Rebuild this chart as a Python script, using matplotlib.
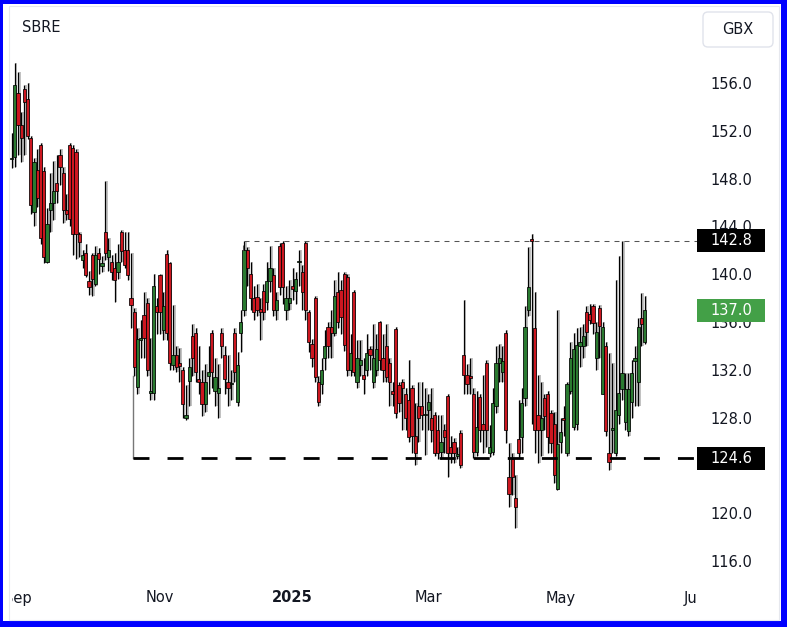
import numpy as np
import pandas as pd
import matplotlib
matplotlib.use("Agg")
import matplotlib.pyplot as plt
import matplotlib.transforms as mtransforms
from matplotlib.patches import Rectangle, FancyBboxPatch

# daily candles, SBRE in GBX (Aug 29 2024 -> Jun 2025)
opens = [149.6, 149.8, 155.2, 152.5, 155.5, 154.7, 151.4, 145.2, 148.7, 150.8,
         148.6, 141.0, 145.4, 146.0, 147.6, 150.0, 148.5, 145.4, 150.8, 150.6,
         150.2, 143.4, 141.2, 141.8, 139.4, 141.6, 139.2, 141.8, 140.7, 143.5,
         141.4, 141.0, 140.5, 140.2, 143.5, 142.0, 142.0, 138.0, 136.8, 130.6,
         134.5, 136.6, 137.6, 130.1, 130.1, 137.3, 139.9, 135.3, 141.7, 140.9,
         132.4, 133.2, 132.6, 132.0, 128.0, 131.1, 134.8, 135.1, 131.2, 131.0,
         129.1, 131.5, 135.1, 130.2, 130.1, 135.1, 133.2, 131.0, 130.8, 135.1,
         129.3, 135.1, 137.0, 142.0, 140.0, 138.0, 138.1, 137.1, 138.6, 137.7,
         139.4, 139.9, 137.0, 142.4, 142.6, 137.0, 137.6, 139.0, 138.6, 141.0,
         140.2, 142.6, 136.8, 134.2, 138.0, 131.0, 130.8, 133.0, 135.6, 135.6,
         135.1, 138.5, 138.7, 140.0, 139.8, 132.0, 138.5, 131.0, 132.4, 131.6,
         132.0, 133.7, 131.0, 132.0, 136.0, 133.0, 134.0, 132.6, 130.2, 135.4,
         130.7, 131.0, 130.0, 129.5, 130.5, 126.5, 129.0, 129.0, 128.2, 128.6,
         128.0, 128.2, 127.0, 125.1, 127.0, 129.8, 125.5, 126.0, 124.8, 126.7,
         133.2, 131.6, 131.5, 130.0, 125.1, 129.7, 127.5, 132.6, 125.0, 125.1,
         129.0, 132.6, 131.8, 135.1, 123.0, 124.5, 121.3, 126.2, 126.4, 129.6,
         137.0, 142.9, 135.5, 128.2, 127.0, 129.6, 130.0, 128.4, 127.5, 122.0,
         126.0, 128.0, 125.0, 130.2, 127.2, 127.5, 134.0, 134.0, 136.8, 136.7,
         137.3, 133.0, 137.2, 130.0, 134.0, 125.0, 127.0, 125.0, 128.2, 130.4,
         127.6, 126.9, 129.3, 132.7, 131.0, 136.3, 134.3]
highs = [151.8, 157.7, 156.9, 153.6, 155.8, 156.0, 151.6, 149.7, 150.5, 151.0,
         149.0, 145.5, 148.5, 149.5, 150.0, 150.5, 149.0, 146.7, 151.0, 150.8,
         150.5, 143.5, 142.0, 142.5, 140.3, 141.8, 142.4, 142.2, 141.5, 147.8,
         143.0, 141.6, 141.8, 142.5, 143.7, 143.5, 143.5, 141.8, 137.2, 135.5,
         136.2, 138.5, 138.0, 134.7, 140.0, 138.0, 140.0, 138.5, 142.0, 141.0,
         137.4, 134.0, 133.8, 132.2, 130.7, 133.0, 135.8, 135.5, 134.0, 132.0,
         132.5, 134.0, 135.3, 133.0, 132.5, 135.5, 134.0, 133.2, 132.0, 135.5,
         133.5, 137.0, 142.8, 142.3, 141.0, 139.0, 139.2, 138.0, 139.2, 141.0,
         142.4, 140.5, 138.5, 142.6, 142.8, 139.0, 139.5, 140.5, 140.2, 142.0,
         140.8, 142.8, 137.0, 134.6, 138.2, 131.5, 133.0, 135.3, 136.0, 137.0,
         139.5, 140.2, 139.5, 140.2, 140.0, 135.0, 138.7, 134.5, 134.5, 133.0,
         135.0, 134.0, 135.8, 135.0, 136.1, 135.0, 135.8, 133.0, 131.0, 135.6,
         131.0, 131.2, 130.5, 132.8, 130.7, 129.2, 131.0, 131.0, 130.5, 130.0,
         130.5, 128.5, 128.2, 128.2, 127.5, 130.0, 126.5, 126.3, 125.5, 127.0,
         137.8, 132.5, 133.0, 130.5, 130.2, 130.0, 131.6, 132.8, 127.4, 130.5,
         134.0, 134.2, 134.0, 135.3, 125.9, 125.0, 123.2, 129.5, 130.5, 137.3,
         142.3, 143.4, 138.5, 131.6, 131.0, 130.0, 130.2, 128.6, 128.5, 137.0,
         128.0, 129.0, 131.0, 134.3, 135.1, 135.5, 135.6, 135.8, 137.3, 137.5,
         137.5, 136.0, 137.4, 136.0, 134.3, 133.4, 132.6, 139.5, 141.5, 142.8,
         131.7, 131.7, 132.8, 134.0, 136.3, 138.4, 138.2]
lows = [148.9, 149.0, 150.0, 149.4, 150.0, 151.3, 145.0, 144.0, 145.6, 142.5,
        140.9, 140.9, 143.5, 144.5, 146.0, 147.5, 144.3, 144.5, 144.0, 141.6,
        141.3, 141.4, 140.5, 139.8, 138.3, 138.2, 139.0, 140.0, 140.2, 141.2,
        140.3, 139.5, 137.7, 139.6, 141.0, 140.5, 139.5, 135.5, 131.5, 130.0,
        133.0, 133.0, 131.5, 129.5, 129.5, 135.0, 135.0, 134.5, 134.5, 132.0,
        132.0, 131.8, 131.0, 128.0, 127.8, 129.0, 131.5, 131.0, 130.0, 128.1,
        128.5, 130.0, 130.5, 129.0, 128.0, 133.0, 130.0, 129.0, 129.5, 131.0,
        129.0, 133.5, 136.5, 139.0, 137.0, 136.2, 136.5, 134.5, 136.2, 137.0,
        138.5, 136.5, 136.2, 138.3, 137.5, 136.2, 137.0, 137.8, 137.5, 139.0,
        137.0, 136.2, 133.5, 132.2, 131.0, 129.0, 130.0, 132.0, 133.0, 133.0,
        134.8, 135.5, 135.0, 133.6, 131.5, 131.5, 131.5, 130.5, 131.5, 130.0,
        131.5, 132.0, 130.5, 131.5, 132.0, 131.0, 131.0, 129.0, 129.0, 128.0,
        128.5, 127.0, 127.0, 126.0, 125.0, 124.0, 126.0, 127.0, 124.9, 127.0,
        126.0, 124.8, 124.5, 124.5, 125.0, 123.0, 124.2, 124.2, 124.5, 123.8,
        130.0, 130.0, 130.0, 124.6, 124.8, 126.0, 125.0, 125.5, 124.7, 124.9,
        128.4, 131.0, 131.0, 125.9, 120.5, 121.5, 118.8, 124.6, 125.0, 129.0,
        136.5, 127.5, 125.0, 124.2, 124.8, 127.0, 125.0, 125.0, 122.5, 121.9,
        125.0, 126.5, 124.8, 130.0, 127.0, 127.0, 132.2, 133.0, 134.0, 135.8,
        135.0, 132.0, 133.0, 130.0, 126.5, 123.6, 125.0, 124.8, 127.5, 129.5,
        127.0, 126.5, 128.0, 129.0, 129.0, 134.0, 134.2]
closes = [149.7, 155.8, 152.5, 151.4, 154.4, 151.6, 145.8, 149.4, 146.4, 143.0,
          141.4, 144.2, 146.0, 147.0, 147.0, 149.0, 145.4, 145.0, 144.6, 143.4,
          143.4, 142.7, 141.6, 139.9, 138.9, 139.6, 141.6, 141.3, 140.9, 141.8,
          142.0, 140.2, 139.5, 141.0, 141.9, 140.8, 139.9, 137.4, 132.2, 134.6,
          134.6, 134.7, 132.0, 130.2, 139.0, 136.8, 136.8, 137.3, 135.1, 132.6,
          133.2, 132.2, 132.3, 129.1, 128.2, 132.2, 133.0, 131.8, 131.0, 129.1,
          131.0, 131.8, 131.8, 131.4, 130.5, 134.0, 131.2, 130.5, 130.9, 131.8,
          132.4, 136.0, 142.0, 140.5, 138.0, 136.8, 137.0, 136.8, 136.8, 139.4,
          140.5, 137.0, 137.8, 138.9, 138.9, 138.0, 138.0, 138.8, 139.6, 141.1,
          138.5, 137.0, 134.3, 133.0, 131.4, 129.3, 132.0, 134.0, 134.0, 135.1,
          138.2, 136.0, 136.4, 134.1, 132.0, 133.4, 131.8, 133.0, 132.8, 131.2,
          133.4, 133.2, 133.0, 133.7, 132.8, 132.0, 131.4, 131.0, 130.0, 128.4,
          129.2, 130.5, 128.0, 126.4, 126.5, 125.0, 128.0, 128.2, 128.3, 129.3,
          127.0, 125.0, 125.0, 126.0, 126.4, 125.0, 125.0, 125.0, 124.9, 124.0,
          131.6, 130.8, 131.3, 125.1, 127.2, 127.0, 127.0, 127.0, 125.5, 129.2,
          132.6, 133.0, 132.7, 127.0, 121.6, 123.0, 120.5, 125.0, 129.2, 135.6,
          138.9, 142.8, 127.0, 127.0, 128.0, 128.1, 126.4, 125.9, 123.2, 125.8,
          126.8, 127.8, 130.8, 133.0, 133.7, 134.1, 134.3, 134.8, 135.2, 136.2,
          135.9, 135.2, 135.7, 135.6, 126.9, 124.3, 127.1, 128.6, 130.1, 131.7,
          130.4, 130.4, 131.7, 133.0, 135.6, 135.8, 137.0]

uk_holidays = ["2024-12-25", "2024-12-26", "2025-01-01", "2025-04-18",
               "2025-04-21", "2025-05-05", "2025-05-26"]
month_ticks = ["2024-09-02", "2024-11-01", "2025-01-02", "2025-03-03", "2025-05-01", "2025-07-01"]
month_names = ["Sep", "Nov", "2025", "Mar", "May", "Jul"]
# 124.0 sits under the support label, so it is not shown
price_ticks = [116, 120, 128, 132, 136, 140, 144, 148, 152, 156]

resistance = 142.8
support = 124.6
resistance_start = 72
support_start = 38

o = np.array(opens); h = np.array(highs); l = np.array(lows); c = np.array(closes)
n = len(o)
dates = pd.bdate_range("2024-08-29", "2025-07-31", freq="C", holidays=uk_holidays)
date_idx = {d.strftime("%Y-%m-%d"): i for i, d in enumerate(dates)}

W, H = 787, 627
fig = plt.figure(figsize=(W / 100, H / 100), dpi=100)
fig.patch.set_facecolor("#0000ff")
fig.add_artist(Rectangle((3 / W, 6 / H), 778 / W, 617 / H, transform=fig.transFigure,
                         facecolor="white", edgecolor="none", zorder=-2))
fig.add_artist(Rectangle((9 / W, 7 / H), 770 / W, 614 / H, transform=fig.transFigure,
                         facecolor="none", edgecolor="#e6e8ee", lw=0.8, zorder=-1))

# plot area in pixels: x 9..697, y 7..580 (from top)
ax = fig.add_axes([9 / W, 47 / H, 688 / W, 573 / H])
ax.set_facecolor("none")
px_per_bar = 3.23
x0_px = 11.5
ax.set_xlim((9 - x0_px) / px_per_bar, (697 - x0_px) / px_per_bar)
ppu = 11.95
ax.set_ylim(156 - (580 - 83) / ppu, 156 + (83 - 7) / ppu)

green = "#2a7a30"
red = "#cc1720"
x = np.arange(n)
col = np.where(c >= o, green, red)
bot = np.minimum(o, c)
ht = np.maximum(np.abs(c - o), 0.12)

ax.vlines(x + 0.5, l, h, color="#b0b0b0", lw=1.1, zorder=1)
ax.vlines(x, l, h, color="black", lw=0.9, zorder=2)
ax.bar(x, ht, width=1.0, bottom=bot, color=col, edgecolor="black", linewidth=0.55, zorder=3)

xr = ax.get_xlim()[1]
ax.plot([support_start - 0.3, support_start - 0.3], [l[support_start], support], color="#777777", lw=1, zorder=4)
ax.plot([support_start - 0.3, xr], [support, support], color="black", lw=2, dashes=(5.75, 6.5), zorder=4)
ax.plot([resistance_start - 0.3, resistance_start - 0.3, xr], [142.0, resistance, resistance],
        color="#555555", lw=0.75, dashes=(4.8, 4.8), zorder=4)

for s in ax.spines.values():
    s.set_visible(False)
ax.yaxis.tick_right()
ax.set_yticks(price_ticks)
ax.set_yticklabels(["%.1f" % v for v in price_ticks])
ax.tick_params(axis="y", length=0, pad=9.4, labelsize=10.5, labelcolor="#131722")
ax.set_xticks([])

# month labels, clipped like the original
clip = mtransforms.TransformedBbox(mtransforms.Bbox.from_extents(12 / W, 0, 697 / W, 1), fig.transFigure)
tr = mtransforms.blended_transform_factory(ax.transData, ax.transAxes)
for d, name in zip(month_ticks, month_names):
    t = ax.text(date_idx[d], -18 / 573, name, transform=tr, ha="center", va="center",
                fontsize=10.5, color="#131722", fontweight="bold" if name == "2025" else "normal")
    t.set_clip_on(True)
    t.set_clip_box(clip)

# price labels on the axis
trb = mtransforms.blended_transform_factory(ax.transAxes, ax.transData)
bw = 68 / 688
bh = 23 / ppu
for val, fc in [(resistance, "black"), (c[-1], "#43a047"), (support, "black")]:
    ax.add_patch(Rectangle((1.0, val - bh / 2), bw, bh, transform=trb, facecolor=fc,
                           edgecolor="none", clip_on=False, zorder=6))
    ax.text(1.0 + bw / 2, val, "%.1f" % val, transform=trb, ha="center", va="center",
            color="white", fontsize=10.5, clip_on=False, zorder=7)

fig.text(22 / W, 1 - 27 / H, "SBRE", ha="left", va="center", fontsize=10.5, color="#131722")
fig.add_artist(FancyBboxPatch((703, 580), 70, 35, boxstyle="round,pad=0,rounding_size=5",
                              transform=mtransforms.IdentityTransform(),
                              facecolor="white", edgecolor="#e0e3eb", lw=1))
fig.text(738 / W, 1 - 29 / H, "GBX", ha="center", va="center", fontsize=10.5, color="#131722")

fig.savefig("out.png", dpi=100, facecolor=fig.get_facecolor())
